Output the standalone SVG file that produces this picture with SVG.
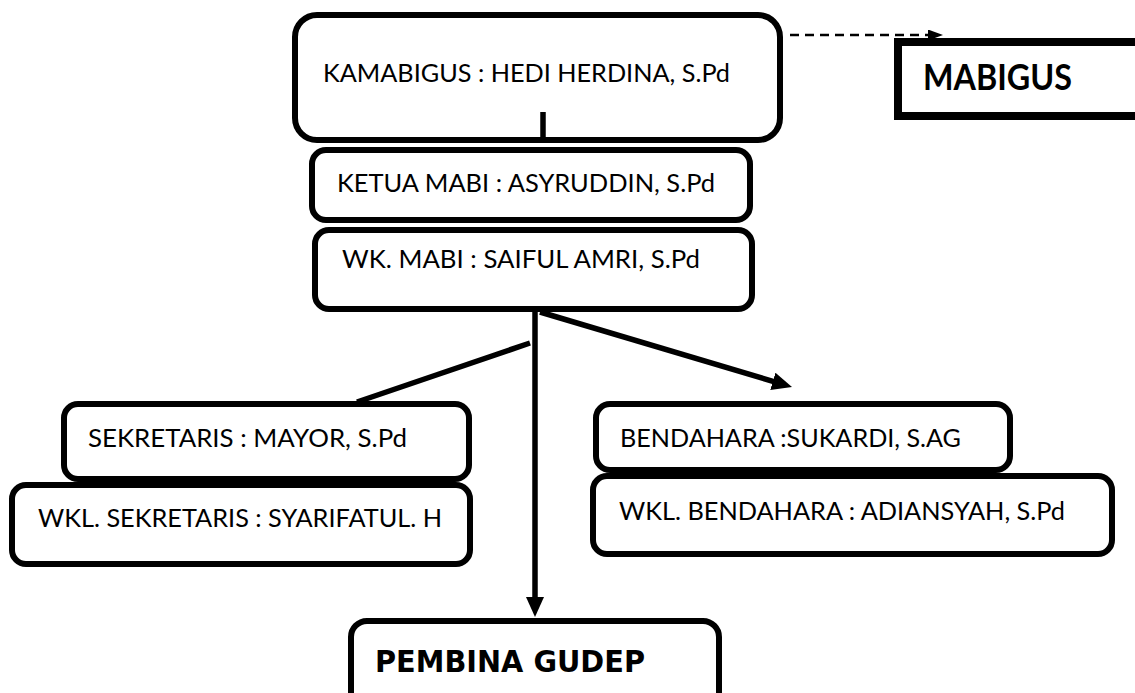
<svg xmlns="http://www.w3.org/2000/svg" width="1135" height="693" viewBox="0 0 1135 693">
<style>
.box{fill:#fff;stroke:#000;stroke-width:6}
.t{font-family:Lato,"Open Sans","Liberation Sans",sans-serif;font-size:25px;fill:#000}
.tb{font-family:Lato,"Liberation Sans",sans-serif;font-weight:bold;font-size:36px;fill:#000}
.tc{font-family:"Comic Sans MS","DejaVu Sans",sans-serif;font-weight:bold;font-size:30px;fill:#000}
.c{stroke:#000;stroke-width:5.5;fill:none}
</style>
<defs>
<marker id="ah" markerUnits="userSpaceOnUse" markerWidth="20" markerHeight="18" refX="8" refY="9" orient="auto" viewBox="0 0 20 18">
<path d="M0,0 L20,9 L0,18 z" fill="#000"/>
</marker>
<marker id="ahs" markerUnits="userSpaceOnUse" markerWidth="15" markerHeight="11" refX="7" refY="5.5" orient="auto" viewBox="0 0 15 11">
<path d="M0,0 L15,5.5 L0,11 z" fill="#000"/>
</marker>
</defs>
<rect width="1135" height="693" fill="#fff"/>
<g id="mabigus">
<rect x="898" y="42" width="260" height="74" fill="#fff" stroke="#000" stroke-width="8"/>
<text class="tb" x="923" y="90" textLength="149" lengthAdjust="spacingAndGlyphs">MABIGUS</text>
</g>
<g id="kamabigus">
<rect class="box" x="295" y="15" width="485" height="125" rx="22"/>
<text class="t" x="323" y="82" textLength="407" lengthAdjust="spacingAndGlyphs">KAMABIGUS : HEDI HERDINA, S.Pd</text>
</g>
<g id="ketua">
<rect class="box" x="312" y="150" width="438" height="70" rx="14"/>
<text class="t" x="337" y="192" textLength="378" lengthAdjust="spacingAndGlyphs">KETUA MABI : ASYRUDDIN, S.Pd</text>
</g>
<g id="wakil">
<rect class="box" x="315" y="230" width="437" height="79" rx="14"/>
<text class="t" x="342" y="268" textLength="358" lengthAdjust="spacingAndGlyphs">WK. MABI : SAIFUL AMRI, S.Pd</text>
</g>
<g id="sekretaris">
<rect class="box" x="64" y="404" width="405" height="75" rx="14"/>
<text class="t" x="88" y="447" textLength="319" lengthAdjust="spacingAndGlyphs">SEKRETARIS : MAYOR, S.Pd</text>
</g>
<g id="wkl-sekretaris">
<rect class="box" x="12" y="485" width="458" height="79" rx="14"/>
<text class="t" x="38" y="527" textLength="404" lengthAdjust="spacingAndGlyphs">WKL. SEKRETARIS : SYARIFATUL. H</text>
</g>
<g id="bendahara">
<rect class="box" x="596" y="404" width="414" height="66" rx="14"/>
<text class="t" x="620" y="447" textLength="341" lengthAdjust="spacingAndGlyphs">BENDAHARA :SUKARDI, S.AG</text>
</g>
<g id="wkl-bendahara">
<rect class="box" x="593" y="476" width="519" height="78" rx="14"/>
<text class="t" x="619" y="520" textLength="446" lengthAdjust="spacingAndGlyphs">WKL. BENDAHARA : ADIANSYAH, S.Pd</text>
</g>
<g id="pembina-gudep">
<rect class="box" x="351" y="621" width="368" height="95" rx="16"/>
<text class="tc" x="375" y="672" textLength="270" lengthAdjust="spacingAndGlyphs">PEMBINA GUDEP</text>
</g>
<g id="connectors">
<line class="c" x1="543" y1="112" x2="543" y2="140"/>
<line x1="790" y1="35" x2="935" y2="35" stroke="#000" stroke-width="2.5" stroke-dasharray="9,6" marker-end="url(#ahs)"/>
<line class="c" x1="535" y1="310" x2="535" y2="605" marker-end="url(#ah)"/>
<line class="c" x1="540" y1="312" x2="780.5" y2="383.6" marker-end="url(#ah)"/>
<line class="c" x1="530" y1="343" x2="357" y2="402"/>
</g>
</svg>
